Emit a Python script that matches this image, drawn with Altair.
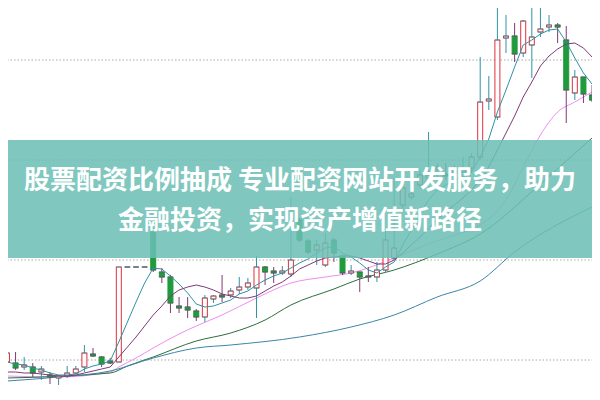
import altair as alt
import pandas as pd

# ---- candle data (price units) ----
opens = [3.8,3.7,3.3,3.3,2.8,2.5,2.2,2.4,2.7,3.3,
         4.6,4.3,3.9,3.8,13.3,13.3,13.3,16.8,12.8,12.3,
         9.4,9.3,8.9,8.3,10.1,10.5,10.5,11.0,11.3,11.2,
         13.3,12.9,12.7,12.6,18.0,15.9,15.0,13.5,16.0,14.4,
         12.7,12.8,12.4,12.3,13.0,14.2,19.5,20.3,21.5,22.2,
         23.1,22.6,22.7,22.8,23.2,24.3,29.9,28.3,36.2,36.4,
         34.7,35.5,36.8,37.3,37.5,36.0,30.7,32.3,30.5]
highs = [4.8,4.8,4.3,3.7,3.4,2.8,2.5,3.4,3.4,5.5,
         5.2,4.4,4.2,13.3,13.3,13.3,13.3,17.2,13.2,12.5,
         10.3,10.3,9.1,10.5,10.5,12.5,11.2,12.3,12.2,14.4,
         13.4,13.3,13.4,20.3,18.2,16.1,16.0,16.7,16.2,14.5,
         13.5,12.8,13.3,13.8,17.2,22.2,22.3,21.0,23.0,26.8,
         23.7,23.7,23.5,24.3,24.7,34.3,32.4,40.0,38.5,37.7,
         38.0,40.0,39.4,38.5,37.7,37.4,33.0,32.3,31.5]
lows = [3.3,3.0,3.0,2.3,2.0,1.6,1.5,2.2,2.6,2.8,
        4.3,3.3,3.6,3.8,13.3,13.3,13.3,12.8,11.7,8.7,
        8.7,8.2,7.9,7.8,9.7,9.8,10.2,10.6,11.0,8.2,
        11.5,11.7,12.5,12.3,15.8,14.6,13.5,13.3,13.8,12.5,
        12.5,10.8,11.8,11.8,12.8,14.0,18.8,20.0,21.2,21.9,
        22.3,22.0,22.3,22.7,22.7,24.0,29.0,28.0,34.7,33.8,
        34.3,32.2,36.3,36.8,35.7,27.7,30.0,29.7,29.8]
closes = [4.7,3.2,3.5,2.7,3.1,2.3,2.4,2.7,3.1,4.7,
          4.4,3.6,3.7,13.3,13.3,13.3,13.3,13.0,12.3,9.7,
          9.2,9.0,8.3,10.2,10.4,10.3,10.9,11.3,11.7,13.3,
          12.8,12.7,12.9,14.0,16.0,14.8,15.5,15.7,14.7,12.7,
          12.9,12.3,12.3,13.0,16.0,15.2,21.2,20.6,22.5,22.5,
          23.3,22.4,22.9,23.2,24.3,29.8,30.1,36.0,36.4,34.6,
          37.9,36.3,37.1,37.5,37.3,31.0,32.3,30.6,30.0]

# ---- moving averages ----
ma5 = [3.8,3.6,3.5,3.2,3.0,2.7,2.5,2.5,2.6,3.1,3.4,3.6,3.9,
       5.8,7.8,9.8,11.7,
       13.2,13.1,12.4,11.6,10.7,9.6,
       9.3,9.4,9.7,10.0,10.6,10.9,11.5,
       12.0,12.4,12.7,13.2,13.7,14.1,14.7,
       15.2,15.3,14.7,14.3,13.7,13.0,12.7,13.3,13.8,
       15.5,17.0,18.6,20.0,21.0,21.5,22.0,22.3,22.8,
       24.3,26.1,28.8,31.0,33.3,35.5,36.0,36.6,
       37.0,37.1,35.8,34.2,32.7,31.6]
ma10 = [2.8,2.8,2.7,2.7,2.6,2.5,2.4,2.4,2.5,2.7,2.9,3.1,3.3,
        4.3,5.3,6.3,7.4,8.5,9.4,10.4,11.0,11.3,11.5,
        11.3,11.0,10.6,10.4,10.2,10.2,10.4,10.9,11.4,11.8,
        12.4,13.1,13.5,13.9,14.2,14.3,14.4,14.4,14.2,13.9,13.6,13.6,
        14.0,14.7,15.5,16.3,17.2,18.0,18.8,19.5,20.2,21.0,
        22.0,23.3,25.0,26.7,28.4,30.3,31.8,33.4,34.4,35.1,35.6,35.7,35.2,34.3]
ma20_idx = [0,6,12,13,15,17,20,22,25,29,33,37,40,45,49,52,55,58,60,62,64,66,68]
ma20_val = [2.4,2.3,2.8,3.3,4.2,5.2,6.6,7.4,8.5,10.2,11.7,12.3,12.7,14.2,15.6,16.5,17.5,20.0,23.3,26.5,28.8,29.8,30.8]
ma30_idx = [0,12,14,17,22,26,30,33,38,41,45,50,55,62,65,68]
ma30_val = [2.2,2.7,3.4,4.3,5.9,6.7,8.0,9.5,11.1,12.1,13.0,14.6,16.6,21.6,23.9,26.2]
ma60_idx = [0,6,12,17,22,26,34,40,45,50,55,59,68]
ma60_val = [1.9,2.3,2.9,4.2,5.2,5.5,6.3,7.3,8.5,10.3,11.9,14.8,19.3]

grid_levels = [4, 14, 24, 34]
banner_top = 26.0
banner_bottom = 14.2
title_lines = ["股票配资比例抽成 专业配资网站开发服务，助力", "金融投资，实现资产增值新路径"]

RED = "#e0303a"
GREEN = "#1f9a3c"

n = len(opens)
df = pd.DataFrame({"i": list(range(n)), "open": opens, "high": highs,
                   "low": lows, "close": closes})
df["dir"] = ["up" if c >= o else "down" for o, c in zip(opens, closes)]

xs = alt.Scale(domain=[-0.2286, 68.343], nice=False, zero=False)
ys = alt.Scale(domain=[0, 40], nice=False, zero=False)
X = alt.X("i:Q", scale=xs, axis=None)
col = alt.Color("dir:N", scale=alt.Scale(domain=["up", "down"], range=[RED, GREEN]), legend=None)

grid = alt.Chart(pd.DataFrame({"g": grid_levels})).mark_rule(
    color="#a8a8a8", strokeWidth=1, strokeDash=[1.5, 2]
).encode(y=alt.Y("g:Q", scale=ys, axis=None), x=alt.value(0), x2=alt.value(600))

base = alt.Chart(df)
wicks = base.mark_rule(strokeWidth=1).encode(
    x=X, y=alt.Y("low:Q", scale=ys, axis=None), y2="high:Q", color=col)
bodies = base.mark_bar(width=5, strokeWidth=1).encode(
    x=X, y=alt.Y("open:Q", scale=ys, axis=None), y2="close:Q",
    stroke=alt.Stroke("dir:N", scale=alt.Scale(domain=["up", "down"], range=[RED, GREEN]), legend=None),
    fill=alt.Fill("dir:N", scale=alt.Scale(domain=["up", "down"], range=["#ffffff", GREEN]), legend=None))
ticks_c = base.mark_tick(orient="horizontal", size=6, thickness=1).encode(
    x=X, y=alt.Y("close:Q", scale=ys, axis=None), color=col)
ticks_o = base.mark_tick(orient="horizontal", size=6, thickness=1).encode(
    x=X, y=alt.Y("open:Q", scale=ys, axis=None), color=col)

names = ["MA5", "MA10", "MA20", "MA30", "MA60"]
colors = ["#2e93a3", "#7e3a78", "#ee8ef0", "#2d6e3a", "#3a86a8"]
dense = pd.DataFrame({"i": list(range(n)) * 2, "v": ma5 + ma10,
                      "name": ["MA5"] * n + ["MA10"] * n})
sparse = pd.DataFrame({"i": ma20_idx + ma30_idx + ma60_idx,
                       "v": ma20_val + ma30_val + ma60_val,
                       "name": ["MA20"] * len(ma20_idx) + ["MA30"] * len(ma30_idx) + ["MA60"] * len(ma60_idx)})
lcol = alt.Color("name:N", scale=alt.Scale(domain=names, range=colors), legend=None)
lines_d = alt.Chart(dense).mark_line(strokeWidth=1).encode(
    x=X, y=alt.Y("v:Q", scale=ys, axis=None), color=lcol, detail="name:N")
lines_s = alt.Chart(sparse).mark_line(strokeWidth=1, interpolate="monotone").encode(
    x=X, y=alt.Y("v:Q", scale=ys, axis=None), color=lcol, detail="name:N")

banner = alt.Chart(pd.DataFrame({"t": [banner_top], "b": [banner_bottom]})).mark_rect(
    color="#6bbfb4", opacity=0.86
).encode(y=alt.Y("t:Q", scale=ys, axis=None), y2="b:Q", x=alt.value(0), x2=alt.value(600))

t1 = alt.Chart(pd.DataFrame({"s": [title_lines[0]]})).mark_text(
    font="Noto Sans CJK SC", fontSize=26, fontWeight="bold", color="white",
    align="center", baseline="middle"
).encode(text="s:N", x=alt.value(300), y=alt.value(181))
t2 = alt.Chart(pd.DataFrame({"s": [title_lines[1]]})).mark_text(
    font="Noto Sans CJK SC", fontSize=26, fontWeight="bold", color="white",
    align="center", baseline="middle"
).encode(text="s:N", x=alt.value(300), y=alt.value(221))

chart = alt.layer(grid, lines_s, wicks, bodies, ticks_c, ticks_o, lines_d, banner, t1, t2).properties(
    width=600, height=400,
    padding={"left": -8, "top": -8, "right": -8, "bottom": -8},
    autosize=alt.AutoSizeParams(type="none"),
    background="white",
).configure_view(strokeWidth=0)

chart.save("out.html", embed_options={"renderer": "svg", "actions": False})
